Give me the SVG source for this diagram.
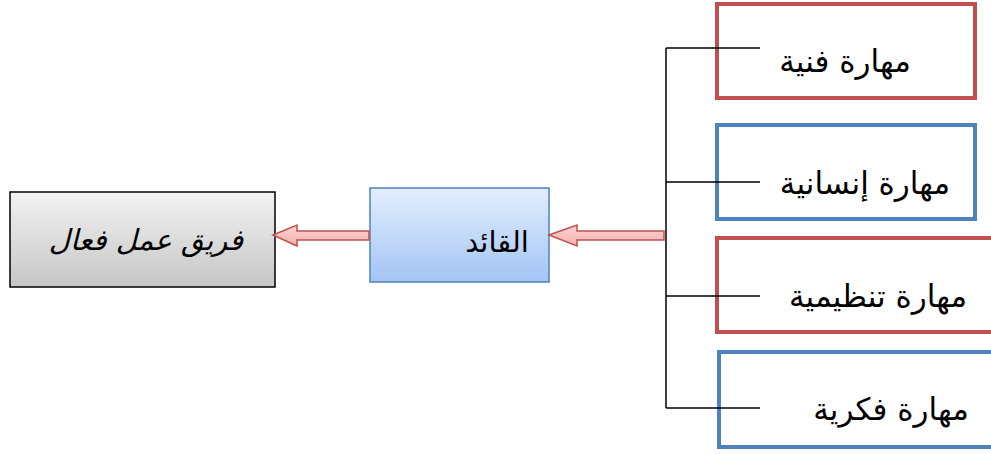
<svg xmlns="http://www.w3.org/2000/svg" width="991" height="454" viewBox="0 0 991 454">
<defs>
<linearGradient id="gBlue" x1="0" y1="0" x2="0" y2="1"><stop offset="0" stop-color="#e3eefd"/><stop offset="1" stop-color="#a3c4f5"/></linearGradient>
<linearGradient id="gGray" x1="0" y1="0" x2="0" y2="1"><stop offset="0" stop-color="#f2f2f2"/><stop offset="1" stop-color="#c6c6c6"/></linearGradient>
<linearGradient id="gPink" x1="0" y1="0" x2="0" y2="1"><stop offset="0" stop-color="#fbd4d3"/><stop offset="1" stop-color="#f5b0ae"/></linearGradient>
</defs>
<style>
.red{fill:#fff;stroke:#c0504d;stroke-width:4}
.blue{fill:#fff;stroke:#4f81bd;stroke-width:4}
.t{font-family:"DejaVu Sans","Noto Sans",sans-serif;font-size:31px;fill:#000;text-anchor:middle}
.m{font-size:29px}
.conn{fill:none;stroke:#000;stroke-width:1.5}
.arr{fill:url(#gPink);stroke:#c0504d;stroke-width:1.5;stroke-linejoin:miter}
</style>
<g id="team">
<rect x="10" y="192" width="265" height="95" fill="url(#gGray)" stroke="#000" stroke-width="1.5"/>
<text class="t m" x="146" y="250" font-style="italic">فريق عمل فعال</text>
</g>
<g id="leader">
<rect x="370" y="188" width="179" height="94" fill="url(#gBlue)" stroke="#4f81bd" stroke-width="1.5"/>
<text class="t m" x="497" y="252">القائد</text>
</g>
<g id="skill1">
<rect class="red" x="717" y="4" width="258" height="94"/>
<text class="t" x="845" y="72">مهارة فنية</text>
</g>
<g id="skill2">
<rect class="blue" x="717" y="125" width="258" height="94"/>
<text class="t" x="865" y="194">مهارة إنسانية</text>
</g>
<g id="skill3">
<rect class="red" x="717" y="238" width="280" height="94"/>
<text class="t" x="878" y="307">مهارة تنظيمية</text>
</g>
<g id="skill4">
<rect class="blue" x="719" y="352" width="280" height="95"/>
<text class="t" x="891" y="420">مهارة فكرية</text>
</g>
<g id="connectors">
<path class="arr" d="M273,235 L297,225 L297,231 L369,231 L369,240 L297,240 L297,246 Z"/>
<path class="arr" d="M549,235 L577,225 L577,231 L664,231 L664,240 L577,240 L577,246 Z"/>
<path class="conn" d="M666,48 V408 M666,48 H760 M666,182 H760 M666,296 H760 M666,408 H760"/>
</g>
</svg>
